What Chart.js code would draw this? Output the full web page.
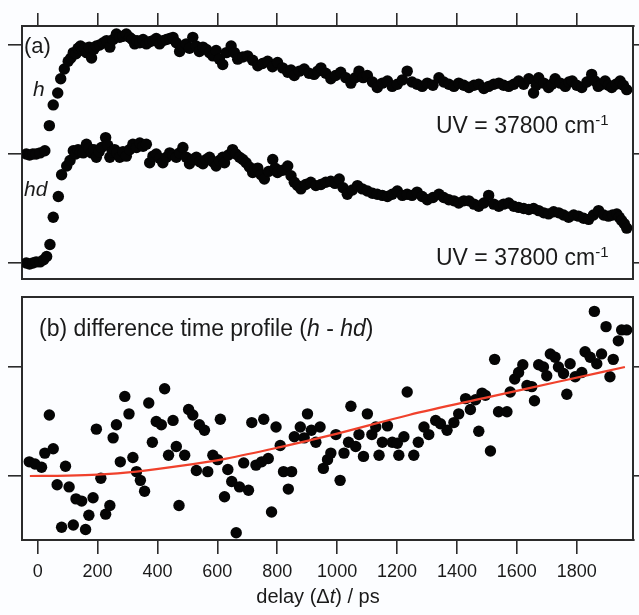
<!DOCTYPE html>
<html>
<head>
<meta charset="utf-8">
<script src="https://cdn.jsdelivr.net/npm/chart.js@4.4.1/dist/chart.umd.min.js"></script>
<style>
  body { margin: 0; background: #fcfdff; }
  #wrap { position: relative; width: 639px; height: 615px; }
  canvas { position: absolute; left: 0; }
</style>
</head>
<body>
<div id="wrap">
  <canvas id="chartA" width="639" height="285" style="top:0"></canvas>
  <canvas id="chartB" width="639" height="330" style="top:285px"></canvas>
</div>
<script>
// delay axis (ps)
var delayTicks = [0, 200, 400, 600, 800, 1000, 1200, 1400, 1600, 1800];
var topTicks = [0, 1, 2];
var diffTicks = [0, 1];

// (a) h trace
var hDelay = [-38,-27,-16,-5,8,24,39,52,67,77,89,102,111,119,128,135,143,150,157,163,172,180,188,196,207,219,230,241,252,263,274,285,296,307,316,324,332,341,352,363,374,385,396,407,418,430,441,452,463,474,485,496,507,518,529,540,552,563,574,585,596,607,618,630,646,657,668,685,701,718,735,751,768,784,801,818,835,846,857,874,890,906,923,935,946,962,979,995,1012,1029,1046,1060,1073,1087,1101,1118,1134,1151,1168,1184,1201,1218,1234,1250,1267,1284,1301,1320,1340,1356,1373,1390,1406,1423,1440,1457,1473,1490,1506,1523,1540,1556,1573,1590,1606,1623,1640,1656,1665,1673,1690,1706,1717,1728,1745,1762,1774,1785,1800,1817,1834,1850,1861,1872,1884,1895,1906,1917,1931,1945,1956,1967];
var hVal = [1.00,0.99,1.00,1.00,1.01,1.03,1.26,1.45,1.56,1.69,1.78,1.85,1.88,1.93,1.92,1.97,1.99,1.95,1.97,1.93,1.98,1.88,1.96,1.99,2.00,2.02,2.04,1.98,2.05,2.10,2.07,2.08,2.10,2.07,2.05,2.01,2.04,2.02,2.05,2.01,2.03,2.04,2.06,2.01,2.04,2.05,2.06,2.07,2.02,1.94,1.98,2.01,1.97,2.07,1.99,1.94,1.98,1.96,1.93,1.90,1.95,1.87,1.82,1.93,1.99,1.93,1.87,1.89,1.90,1.86,1.81,1.83,1.85,1.80,1.84,1.79,1.75,1.77,1.72,1.76,1.78,1.74,1.73,1.76,1.79,1.74,1.69,1.72,1.75,1.70,1.65,1.70,1.76,1.70,1.72,1.66,1.61,1.65,1.67,1.62,1.64,1.68,1.76,1.66,1.64,1.62,1.65,1.63,1.70,1.66,1.64,1.62,1.65,1.63,1.61,1.63,1.64,1.60,1.62,1.64,1.65,1.63,1.62,1.64,1.67,1.64,1.69,1.56,1.63,1.70,1.65,1.61,1.64,1.69,1.65,1.62,1.66,1.67,1.63,1.61,1.66,1.73,1.67,1.62,1.64,1.67,1.63,1.61,1.64,1.67,1.63,1.59];

// (a) hd trace
var hdDelay = [-38,-27,-16,-5,8,20,30,41,52,69,80,97,108,119,127,135,143,152,163,172,180,188,196,205,213,227,234,241,249,257,265,274,285,296,307,318,330,341,352,363,374,385,396,407,418,430,441,452,463,474,485,496,507,518,530,541,552,563,574,585,596,607,618,624,637,651,662,674,685,696,707,718,726,735,746,757,771,785,793,801,818,835,846,857,868,879,895,912,929,946,962,979,993,1007,1020,1034,1051,1068,1084,1101,1118,1134,1151,1168,1184,1201,1218,1234,1250,1267,1284,1301,1320,1340,1356,1373,1390,1406,1423,1440,1457,1473,1490,1506,1523,1540,1556,1573,1590,1606,1623,1640,1656,1673,1690,1706,1723,1740,1756,1773,1790,1806,1823,1840,1856,1873,1890,1906,1920,1934,1942,1950,1959,1967];
var hdVal = [0.00,-0.01,0.00,0.01,0.01,0.03,0.06,0.17,0.42,0.61,0.81,0.89,0.94,1.03,1.00,1.04,1.02,1.01,1.09,1.05,1.01,1.04,0.97,1.02,1.06,1.15,1.08,0.97,1.02,1.04,1.01,0.97,1.02,0.98,1.04,1.09,1.06,1.10,1.07,1.09,0.92,0.98,1.00,0.96,0.92,0.97,1.01,0.99,0.97,1.01,1.06,0.97,0.91,0.95,0.97,0.93,0.91,0.95,0.97,0.93,0.89,0.94,0.97,0.92,0.99,1.04,1.00,0.97,0.95,0.92,0.88,0.83,0.86,0.87,0.81,0.77,0.84,0.95,0.87,0.83,0.85,0.89,0.80,0.74,0.71,0.68,0.72,0.74,0.71,0.72,0.74,0.75,0.73,0.77,0.69,0.63,0.67,0.71,0.68,0.66,0.64,0.63,0.62,0.61,0.63,0.66,0.62,0.63,0.62,0.65,0.61,0.58,0.60,0.63,0.60,0.58,0.57,0.55,0.57,0.57,0.54,0.52,0.55,0.62,0.54,0.52,0.54,0.55,0.52,0.51,0.50,0.49,0.50,0.48,0.46,0.45,0.47,0.46,0.44,0.42,0.44,0.43,0.41,0.40,0.44,0.48,0.44,0.43,0.44,0.45,0.42,0.39,0.36,0.32];

// (b) difference h - hd
var diffDelay = [-28,-9,13,24,52,39,65,80,93,105,119,128,147,160,171,185,196,211,227,241,252,263,276,291,305,318,330,343,357,371,383,396,413,424,437,452,463,472,491,504,518,530,540,557,568,585,601,610,624,635,648,663,674,688,704,715,729,748,755,770,781,796,810,821,837,848,857,877,890,901,914,929,943,954,968,979,996,1010,1023,1038,1046,1062,1073,1088,1101,1116,1129,1140,1151,1168,1184,1201,1206,1223,1234,1256,1271,1290,1306,1329,1345,1367,1390,1406,1429,1445,1462,1473,1484,1495,1512,1526,1539,1567,1578,1593,1606,1620,1634,1650,1659,1673,1689,1700,1712,1728,1739,1756,1767,1778,1795,1817,1828,1845,1859,1867,1883,1898,1911,1922,1939,1950,1967];
var diffVal = [0.13,0.11,0.08,0.21,0.25,0.56,-0.08,-0.47,0.09,-0.10,-0.45,-0.21,-0.23,-0.49,-0.36,-0.20,0.43,-0.02,-0.35,-0.27,0.35,0.47,0.13,0.73,0.57,0.17,0.04,-0.04,-0.14,0.67,0.31,0.50,0.47,0.80,0.19,0.51,0.27,-0.27,0.19,0.61,0.56,0.05,0.47,0.42,0.04,0.19,0.15,0.52,-0.19,0.06,-0.05,-0.52,-0.10,0.12,-0.13,0.49,0.10,0.13,0.52,0.16,-0.33,0.45,0.28,0.04,-0.12,0.04,0.36,0.45,0.35,0.57,0.42,0.31,0.45,0.07,0.15,0.21,0.38,-0.04,0.21,0.31,0.64,0.27,0.38,0.18,0.57,0.38,0.45,0.19,0.31,0.46,0.31,0.30,0.19,0.36,0.77,0.19,0.31,0.45,0.38,0.51,0.48,0.42,0.49,0.57,0.71,0.61,0.70,0.41,0.76,0.74,0.23,1.07,0.59,0.59,0.77,0.89,0.95,1.02,0.83,0.82,0.69,1.02,1.00,0.92,1.12,1.09,1.00,0.94,0.75,1.03,0.91,0.95,1.14,1.09,1.51,1.03,1.12,1.37,0.91,1.07,1.24,1.34,1.34];

// fitted curve
var fitDelay = [-26, 100, 200, 330, 470, 630, 810, 980, 1240, 1490, 1730, 1961];
var fitVal = [0, 0.003, 0.012, 0.04, 0.09, 0.16, 0.265, 0.375, 0.56, 0.715, 0.86, 1.0];

var xMin = -52.3, xMax = 1989;
var frameColor = '#2b2b2b';
var sans = '"Liberation Sans", Arial, sans-serif';

function pts(xs, ys) {
  return xs.map(function (x, i) { return { x: x, y: ys[i] }; });
}
function fixTicks(list) {
  return function (scale) { scale.ticks = list.map(function (v) { return { value: v }; }); };
}
function tickGrid(len) {
  return { drawOnChartArea: false, drawTicks: true, tickLength: len, color: frameColor, lineWidth: 1.6 };
}
function drawRuns(ctx, x, y, runs, align) {
  var total = 0;
  runs.forEach(function (r) { ctx.font = r[1]; total += ctx.measureText(r[0]).width; });
  var cx = align === 'center' ? x - total / 2 : x;
  ctx.textAlign = 'left';
  ctx.textBaseline = 'alphabetic';
  runs.forEach(function (r) {
    ctx.font = r[1];
    ctx.fillText(r[0], cx, y + (r[2] || 0));
    cx += ctx.measureText(r[0]).width;
  });
}

var dotStyle = {
  showLine: false, pointRadius: 5.7, pointHoverRadius: 5.7,
  backgroundColor: '#050505', borderColor: '#050505', borderWidth: 0
};

var labelsA = {
  id: 'labelsA',
  afterDraw: function (chart) {
    var ctx = chart.ctx;
    ctx.save();
    ctx.fillStyle = '#1a1a1a';
    drawRuns(ctx, 24, 53, [['(a)', '22px ' + sans]]);
    drawRuns(ctx, 33, 96, [['h', 'italic 21px ' + sans]]);
    drawRuns(ctx, 24, 196, [['hd', 'italic 21px ' + sans]]);
    var uv = [['UV = 37800 cm', '23px ' + sans], ['-1', '15px ' + sans, -8]];
    drawRuns(ctx, 436, 133, uv);
    drawRuns(ctx, 436, 265, uv);
    ctx.restore();
  }
};

var labelsB = {
  id: 'labelsB',
  afterDraw: function (chart) {
    var ctx = chart.ctx;
    ctx.save();
    ctx.fillStyle = '#1a1a1a';
    var f = '23px ' + sans, fi = 'italic 23px ' + sans;
    drawRuns(ctx, 39, 51, [['(b) difference time profile (', f], ['h', fi], [' - ', f], ['hd', fi], [')', f]]);
    var t = '20px ' + sans;
    drawRuns(ctx, 318, 318, [['delay (\u0394', t], ['t', 'italic 20px ' + sans], [') / ps', t]], 'center');
    ctx.restore();
  }
};

var configA = {
  type: 'scatter',
  data: {
    datasets: [
      Object.assign({ data: pts(hDelay, hVal) }, dotStyle),
      Object.assign({ data: pts(hdDelay, hdVal) }, dotStyle)
    ]
  },
  options: {
    responsive: false,
    animation: false,
    events: [],
    layout: { padding: 0 },
    plugins: { legend: { display: false }, tooltip: { enabled: false } },
    scales: {
      x: {
        type: 'linear', position: 'bottom', min: xMin, max: xMax,
        ticks: { display: false }, grid: { display: false },
        border: { color: frameColor, width: 2 },
        afterFit: function (s) { s.height = 6; }
      },
      xTop: {
        type: 'linear', position: 'top', min: xMin, max: xMax,
        afterBuildTicks: fixTicks(delayTicks),
        ticks: { display: false }, grid: tickGrid(13),
        border: { color: frameColor, width: 2 },
        afterFit: function (s) { s.height = 26; }
      },
      y: {
        type: 'linear', position: 'left', min: -0.147, max: 2.174,
        afterBuildTicks: fixTicks(topTicks),
        ticks: { display: false }, grid: tickGrid(14),
        border: { color: frameColor, width: 2 },
        afterFit: function (s) { s.width = 22; }
      },
      yRight: {
        type: 'linear', position: 'right', min: -0.147, max: 2.174,
        afterBuildTicks: fixTicks(topTicks),
        ticks: { display: false }, grid: tickGrid(10),
        border: { color: frameColor, width: 2 },
        afterFit: function (s) { s.width = 4; }
      }
    }
  },
  plugins: [labelsA]
};

var configB = {
  type: 'scatter',
  data: {
    datasets: [
      Object.assign({ data: pts(diffDelay, diffVal), order: 2 }, dotStyle),
      {
        type: 'line', data: pts(fitDelay, fitVal), order: 1,
        showLine: true, fill: false, cubicInterpolationMode: 'monotone',
        borderColor: '#f0412c', borderWidth: 2.2, pointRadius: 0
      }
    ]
  },
  options: {
    responsive: false,
    animation: false,
    events: [],
    layout: { padding: 0 },
    plugins: { legend: { display: false }, tooltip: { enabled: false } },
    scales: {
      x: {
        type: 'linear', position: 'bottom', min: xMin, max: xMax,
        afterBuildTicks: fixTicks(delayTicks),
        ticks: {
          color: '#1a1a1a', padding: 7, maxRotation: 0, font: { family: sans, size: 18 },
          callback: function (v) { return String(v); }
        },
        grid: tickGrid(14),
        border: { color: frameColor, width: 2 },
        afterFit: function (s) { s.height = 75; }
      },
      xTop: {
        type: 'linear', position: 'top', min: xMin, max: xMax,
        ticks: { display: false }, grid: { display: false },
        border: { color: frameColor, width: 2 },
        afterFit: function (s) { s.height = 12; }
      },
      y: {
        type: 'linear', position: 'left', min: -0.587, max: 1.642,
        afterBuildTicks: fixTicks(diffTicks),
        ticks: { display: false }, grid: tickGrid(14),
        border: { color: frameColor, width: 2 },
        afterFit: function (s) { s.width = 22; }
      },
      yRight: {
        type: 'linear', position: 'right', min: -0.587, max: 1.642,
        afterBuildTicks: fixTicks(diffTicks),
        ticks: { display: false }, grid: tickGrid(10),
        border: { color: frameColor, width: 2 },
        afterFit: function (s) { s.width = 4; }
      }
    }
  },
  plugins: [labelsB]
};

var chartA = new Chart(document.getElementById('chartA'), configA);
var chartB = new Chart(document.getElementById('chartB'), configB);
</script>
</body>
</html>
